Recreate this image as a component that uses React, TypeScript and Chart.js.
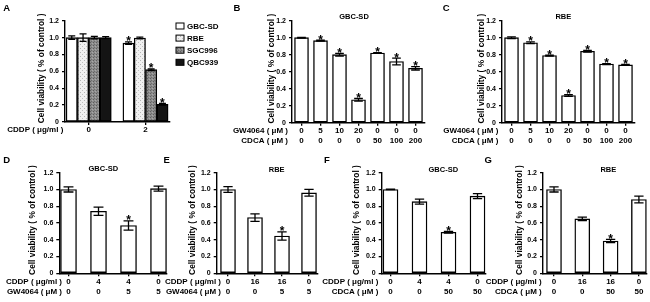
import React, { useEffect, useRef } from 'react';
import { Chart, registerables } from 'chart.js';

Chart.register(...registerables);

const W = 650;
const H = 302;
const FONT = '"Liberation Sans", Arial, Helvetica, sans-serif';

// ---------- data ----------
const Y_TICKS = [0, 0.2, 0.4, 0.6, 0.8, 1.0, 1.2];
const Y_TITLE = 'Cell viability ( % of control )';

// Panel A
const A_CDDP = ['0', '2'];
const A_ROWS = ['CDDP ( μg/ml )'];
const A_SERIES = ['GBC-SD', 'RBE', 'SGC996', 'QBC939'];
const A_GBCSD = [1.0, 0.935];
const A_GBCSD_ERR = [0.02, 0.015];
const A_GBCSD_STAR = [false, true];
const A_RBE = [1.0, 0.995];
const A_RBE_ERR = [0.045, 0.01];
const A_RBE_STAR = [false, false];
const A_SGC996 = [1.0, 0.62];
const A_SGC996_ERR = [0.015, 0.01];
const A_SGC996_STAR = [false, true];
const A_QBC939 = [1.0, 0.21];
const A_QBC939_ERR = [0.012, 0.01];
const A_QBC939_STAR = [false, true];

// Panel B (GBC-SD)
const B_TITLE = 'GBC-SD';
const B_ROWS = ['GW4064 ( μM )', 'CDCA ( μM )'];
const B_GW4064 = ['0', '5', '10', '20', '0', '0', '0'];
const B_CDCA = ['0', '0', '0', '0', '50', '100', '200'];
const B_VALUES = [1.0, 0.965, 0.8, 0.27, 0.82, 0.72, 0.64];
const B_ERR = [0.005, 0.005, 0.015, 0.015, 0.005, 0.04, 0.02];
const B_STARS = [false, true, true, true, true, true, true];

// Panel C (RBE)
const C_TITLE = 'RBE';
const C_ROWS = ['GW4064 ( μM )', 'CDCA ( μM )'];
const C_GW4064 = ['0', '5', '10', '20', '0', '0', '0'];
const C_CDCA = ['0', '0', '0', '0', '50', '100', '200'];
const C_VALUES = [1.0, 0.94, 0.79, 0.32, 0.84, 0.69, 0.68];
const C_ERR = [0.01, 0.01, 0.005, 0.01, 0.01, 0.005, 0.005];
const C_STARS = [false, true, true, true, true, true, true];

// Panel D (GBC-SD)
const D_TITLE = 'GBC-SD';
const D_ROWS = ['CDDP ( μg/ml )', 'GW4064 ( μM )'];
const D_CDDP = ['0', '4', '4', '0'];
const D_GW4064 = ['0', '0', '5', '5'];
const D_VALUES = [1.0, 0.74, 0.57, 1.01];
const D_ERR = [0.03, 0.05, 0.055, 0.03];
const D_STARS = [false, false, true, false];

// Panel E (RBE)
const E_TITLE = 'RBE';
const E_ROWS = ['CDDP ( μg/ml )', 'GW4064 ( μM )'];
const E_CDDP = ['0', '16', '16', '0'];
const E_GW4064 = ['0', '0', '5', '5'];
const E_VALUES = [1.0, 0.665, 0.445, 0.96];
const E_ERR = [0.035, 0.045, 0.05, 0.04];
const E_STARS = [false, false, true, false];

// Panel F (GBC-SD)
const F_TITLE = 'GBC-SD';
const F_ROWS = ['CDDP ( μg/ml )', 'CDCA ( μM )'];
const F_CDDP = ['0', '4', '4', '0'];
const F_CDCA = ['0', '0', '50', '50'];
const F_VALUES = [1.0, 0.855, 0.49, 0.92];
const F_ERR = [0.003, 0.03, 0.01, 0.03];
const F_STARS = [false, false, true, false];

// Panel G (RBE)
const G_TITLE = 'RBE';
const G_ROWS = ['CDDP ( μg/ml )', 'CDCA ( μM )'];
const G_CDDP = ['0', '16', '16', '0'];
const G_CDCA = ['0', '0', '50', '50'];
const G_VALUES = [1.0, 0.65, 0.385, 0.88];
const G_ERR = [0.03, 0.02, 0.02, 0.04];
const G_STARS = [false, false, true, false];

// ---------- layout ----------
type Area = { l: number; r: number; t: number; b: number };
type DS = { label: string; values: number[]; errors: number[]; stars: boolean[]; fill: any };
type Panel = {
  letter: string; letterX: number; letterY: number;
  title?: string; titleX?: number; titleY?: number;
  area: Area; c0: number; sp: number; barW: number;
  rows: string[]; rowRight: number; yTitleX: number;
  ticks: string[][];
  datasets: DS[];
  legend?: { x: number; y: number; dy: number };
};

const zip = (a: string[], b?: string[]) => a.map((v, i) => (b ? [v, b[i]] : [v]));

function makeDeco(p: Panel) {
  return {
    id: 'panelDeco' + p.letter,
    afterDatasetsDraw(chart: any) {
      const ctx = chart.ctx;
      const ys = chart.scales.y;
      chart.data.datasets.forEach((ds: any, di: number) => {
        const meta = chart.getDatasetMeta(di);
        meta.data.forEach((el: any, i: number) => {
          const v = ds.data[i].y;
          const e = ds.errors[i];
          const x = el.x;
          const w = el.width * 0.62;
          const yt = ys.getPixelForValue(v + e);
          const yb = ys.getPixelForValue(v - e);
          ctx.save();
          ctx.strokeStyle = '#000';
          ctx.lineWidth = 1.3;
          ctx.beginPath();
          ctx.moveTo(x, yt); ctx.lineTo(x, yb);
          ctx.moveTo(x - w / 2, yt); ctx.lineTo(x + w / 2, yt);
          ctx.moveTo(x - w / 2, yb); ctx.lineTo(x + w / 2, yb);
          ctx.stroke();
          if (ds.stars[i]) {
            ctx.fillStyle = '#000';
            ctx.font = `bold 12px ${FONT}`;
            ctx.textAlign = 'center';
            ctx.textBaseline = 'alphabetic';
            ctx.fillText('*', x, yt + 3.5);
          }
          ctx.restore();
        });
      });
    },
    afterDraw(chart: any) {
      const ctx = chart.ctx;
      const a = p.area;
      ctx.save();
      ctx.fillStyle = '#000';
      ctx.font = `bold 9.5px ${FONT}`;
      ctx.textAlign = 'center';
      ctx.textBaseline = 'middle';
      ctx.fillText(p.letter, p.letterX, p.letterY);
      if (p.title) {
        ctx.font = `bold 7.5px ${FONT}`;
        ctx.fillText(p.title, p.titleX, p.titleY);
      }
      ctx.font = `bold 8px ${FONT}`;
      ctx.textAlign = 'right';
      p.rows.forEach((r, i) => ctx.fillText(r, p.rowRight, a.b + 3 + 5 + i * 10));
      ctx.save();
      ctx.translate(p.yTitleX, (a.t + a.b) / 2 - 3);
      ctx.rotate(-Math.PI / 2);
      ctx.font = `bold 8.4px ${FONT}`;
      ctx.textAlign = 'center';
      ctx.textBaseline = 'middle';
      ctx.fillText(Y_TITLE, 0, 0);
      ctx.restore();
      if (p.legend) {
        const L = p.legend;
        chart.data.datasets.forEach((ds: any, i: number) => {
          const cy = L.y + i * L.dy;
          ctx.fillStyle = ds.backgroundColor;
          ctx.fillRect(L.x, cy - 3, 8, 6);
          ctx.strokeStyle = '#000';
          ctx.lineWidth = 1;
          ctx.strokeRect(L.x, cy - 3, 8, 6);
          ctx.fillStyle = '#000';
          ctx.font = `bold 8px ${FONT}`;
          ctx.textAlign = 'left';
          ctx.textBaseline = 'middle';
          ctx.fillText(ds.label, L.x + 11, cy + 0.5);
        });
      }
      ctx.restore();
    },
  };
}

function makeChart(canvas: HTMLCanvasElement, p: Panel) {
  const YW = 30;
  const XH = 30;
  const a = p.area;
  const xmin = (a.l - p.c0) / p.sp;
  const xmax = (a.r - p.c0) / p.sp;
  const xFont = { family: FONT, size: 8, weight: 'bold' as const, lineHeight: 1.25 };
  const yFont = { family: FONT, size: 7, weight: 'bold' as const, lineHeight: 1.2 };
  const cfg: any = {
    type: 'bar',
    data: {
      datasets: p.datasets.map((d) => ({
        label: d.label,
        data: d.values.map((v, i) => ({ x: i, y: v })),
        backgroundColor: d.fill,
        borderColor: '#000',
        borderWidth: 1.4,
        borderSkipped: false,
        barThickness: p.barW,
        errors: d.errors,
        stars: d.stars,
      })),
    },
    options: {
      responsive: false,
      animation: false,
      devicePixelRatio: 1,
      events: [],
      layout: { padding: { left: a.l - YW, top: a.t, right: W - a.r, bottom: H - a.b - XH } },
      plugins: { legend: { display: false }, tooltip: { enabled: false }, title: { display: false } },
      scales: {
        x: {
          type: 'linear',
          min: xmin,
          max: xmax,
          offset: false,
          afterBuildTicks: (s: any) => { s.ticks = p.ticks.map((_, i) => ({ value: i })); },
          afterFit: (s: any) => { s.height = XH; },
          ticks: {
            autoSkip: false, maxRotation: 0, minRotation: 0, padding: 0, color: '#000', font: xFont,
            callback: (v: number) => p.ticks[Math.round(v)] || '',
          },
          grid: { display: true, drawOnChartArea: false, drawTicks: true, tickLength: 3, color: '#000', lineWidth: 1.3, offset: false },
          border: { display: true, color: '#000', width: 1.4 },
        },
        y: {
          min: 0,
          max: 1.2,
          afterBuildTicks: (s: any) => { s.ticks = Y_TICKS.map((v) => ({ value: v })); },
          afterFit: (s: any) => { s.width = YW; },
          ticks: {
            padding: 3, color: '#000', font: yFont,
            callback: (v: number) => (v === 0 ? '0' : Number(v).toFixed(1)),
          },
          grid: { display: true, drawOnChartArea: false, drawTicks: true, tickLength: 3, color: '#000', lineWidth: 1.3 },
          border: { display: true, color: '#000', width: 1.4 },
        },
      },
    },
    plugins: [makeDeco(p)],
  };
  return new Chart(canvas, cfg);
}

function makePattern(bg: string, dots: [number, number, string][], size: number) {
  const c = document.createElement('canvas');
  c.width = size; c.height = size;
  const g = c.getContext('2d')!;
  g.fillStyle = bg; g.fillRect(0, 0, size, size);
  dots.forEach(([x, y, col]) => { g.fillStyle = col; g.fillRect(x, y, 1, 1); });
  const ctx = document.createElement('canvas').getContext('2d')!;
  return ctx.createPattern(c, 'repeat');
}

const single = (vals: number[], errs: number[], stars: boolean[]): DS[] => [
  { label: '', values: vals, errors: errs, stars, fill: '#ffffff' },
];

export default function App() {
  const refs = useRef<(HTMLCanvasElement | null)[]>([]);

  useEffect(() => {
    const rbeFill = makePattern('#f0f0f0', [[0, 0, '#b4b4b4'], [2, 2, '#c0c0c0']], 4);
    const sgcFill = makePattern('#8c8c8c', [[0, 0, '#5e5e5e'], [2, 1, '#a8a8a8'], [1, 2, '#6e6e6e']], 3);

    const panels: Panel[] = [
      {
        letter: 'A', letterX: 6.7, letterY: 8.5,
        area: { l: 65, r: 170, t: 20.7, b: 122 }, c0: 88.7, sp: 56.8, barW: 11.3,
        rows: A_ROWS, rowRight: 63.3, yTitleX: 42,
        ticks: zip(A_CDDP),
        datasets: [
          { label: A_SERIES[0], values: A_GBCSD, errors: A_GBCSD_ERR, stars: A_GBCSD_STAR, fill: '#ffffff' },
          { label: A_SERIES[1], values: A_RBE, errors: A_RBE_ERR, stars: A_RBE_STAR, fill: rbeFill },
          { label: A_SERIES[2], values: A_SGC996, errors: A_SGC996_ERR, stars: A_SGC996_STAR, fill: sgcFill },
          { label: A_SERIES[3], values: A_QBC939, errors: A_QBC939_ERR, stars: A_QBC939_STAR, fill: '#141414' },
        ],
        legend: { x: 176, y: 26, dy: 12.1 },
      },
      {
        letter: 'B', letterX: 237, letterY: 8.5, title: B_TITLE, titleX: 354, titleY: 16.7,
        area: { l: 292, r: 425, t: 20.7, b: 122.7 }, c0: 301.5, sp: 19, barW: 14,
        rows: B_ROWS, rowRight: 288, yTitleX: 271.3,
        ticks: zip(B_GW4064, B_CDCA),
        datasets: single(B_VALUES, B_ERR, B_STARS),
      },
      {
        letter: 'C', letterX: 446.3, letterY: 8.5, title: C_TITLE, titleX: 563.3, titleY: 17,
        area: { l: 502, r: 635, t: 20.7, b: 122.7 }, c0: 511.5, sp: 19, barW: 14,
        rows: C_ROWS, rowRight: 498.3, yTitleX: 481.3,
        ticks: zip(C_GW4064, C_CDCA),
        datasets: single(C_VALUES, C_ERR, C_STARS),
      },
      {
        letter: 'D', letterX: 6.7, letterY: 160, title: D_TITLE, titleX: 103.3, titleY: 169.3,
        area: { l: 59.3, r: 167, t: 172.7, b: 273.3 }, c0: 68.5, sp: 30, barW: 16,
        rows: D_ROWS, rowRight: 62, yTitleX: 32.7,
        ticks: zip(D_CDDP, D_GW4064),
        datasets: single(D_VALUES, D_ERR, D_STARS),
      },
      {
        letter: 'E', letterX: 166.7, letterY: 160, title: E_TITLE, titleX: 276.7, titleY: 170,
        area: { l: 216.7, r: 318, t: 172.7, b: 273.3 }, c0: 228, sp: 27, barW: 15,
        rows: E_ROWS, rowRight: 221, yTitleX: 192.7,
        ticks: zip(E_CDDP, E_GW4064),
        datasets: single(E_VALUES, E_ERR, E_STARS),
      },
      {
        letter: 'F', letterX: 327, letterY: 160, title: F_TITLE, titleX: 443.3, titleY: 170,
        area: { l: 381.7, r: 486, t: 172.7, b: 273.3 }, c0: 390.5, sp: 29, barW: 15,
        rows: F_ROWS, rowRight: 378.3, yTitleX: 356.7,
        ticks: zip(F_CDDP, F_CDCA),
        datasets: single(F_VALUES, F_ERR, F_STARS),
      },
      {
        letter: 'G', letterX: 488.3, letterY: 160, title: G_TITLE, titleX: 608.3, titleY: 170,
        area: { l: 543, r: 647, t: 172.7, b: 273.3 }, c0: 554, sp: 28.3, barW: 15,
        rows: G_ROWS, rowRight: 541.7, yTitleX: 519.7,
        ticks: zip(G_CDDP, G_CDCA),
        datasets: single(G_VALUES, G_ERR, G_STARS),
      },
    ];

    const charts = panels.map((p, i) => makeChart(refs.current[i]!, p));
    return () => charts.forEach((c) => c.destroy());
  }, []);

  return (
    <div style={{ position: 'absolute', left: 0, top: 0, width: W, height: H, background: '#fff', overflow: 'hidden' }}>
      {[0, 1, 2, 3, 4, 5, 6].map((i) => (
        <canvas
          key={i}
          ref={(el) => { refs.current[i] = el; }}
          width={W}
          height={H}
          style={{ position: 'absolute', left: 0, top: 0, width: W, height: H }}
        />
      ))}
    </div>
  );
}
